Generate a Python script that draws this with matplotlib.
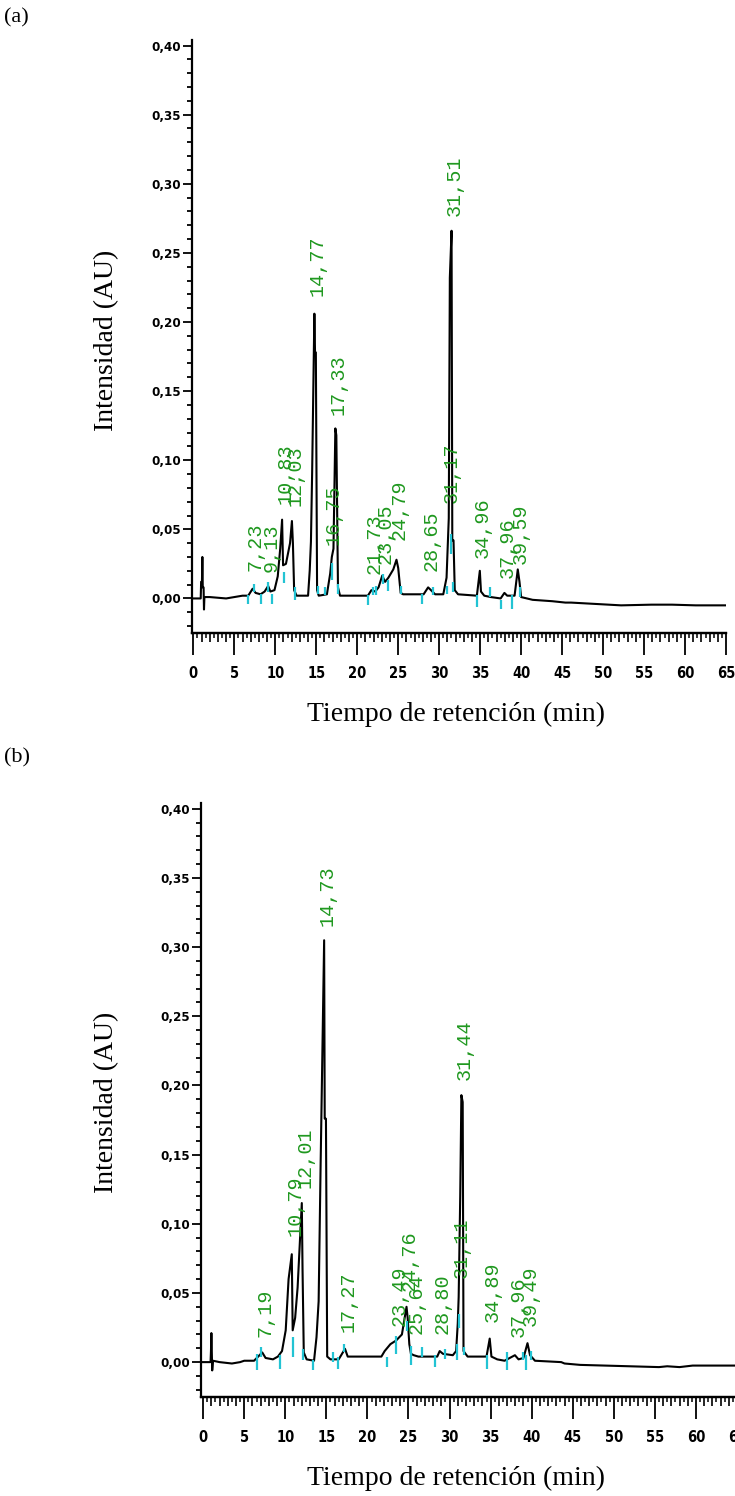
import numpy as np
import matplotlib
matplotlib.use("Agg")
import matplotlib.pyplot as plt
from matplotlib import font_manager
from matplotlib.ticker import MultipleLocator

# ---- panel (a): chromatogram trace (min, AU)
t_a = [-0.2, 0.9, 0.95, 1.05, 1.1, 1.15, 1.25, 1.3, 1.35, 2.0, 3.0, 4.0, 5.0, 6.0, 6.7,
       7.23, 7.6, 8.2, 8.7, 9.13, 9.4, 9.9, 10.3, 10.6, 10.83, 10.95, 11.3, 11.6, 11.8,
       12.03, 12.15, 12.3, 12.6, 14.0, 14.2, 14.35, 14.5, 14.77, 14.85, 14.95, 15.1,
       15.3, 16.3, 16.7, 16.9, 17.1, 17.33, 17.45, 17.65, 17.9, 21.3, 21.73, 22.2,
       22.6, 23.05, 23.4, 23.8, 24.4, 24.79, 25.0, 25.3, 25.6, 28.1, 28.65, 29.0,
       29.5, 30.5, 30.9, 31.17, 31.3, 31.51, 31.6, 31.75, 31.9, 32.3, 34.6, 34.96,
       35.1, 35.5, 36.3, 37.5, 37.96, 38.3, 39.2, 39.59, 39.8, 40.0, 41.4, 43.8,
       45.4, 46.1, 52.2, 55.9, 58.4, 61.3, 65.0]
i_a = [0.000, 0.000, 0.012, 0.012, 0.030, 0.008, 0.008, -0.008, 0.001, 0.001, 0.0005,
       0.000, 0.001, 0.002, 0.002, 0.007, 0.004, 0.003, 0.005, 0.009, 0.005, 0.006,
       0.016, 0.036, 0.057, 0.024, 0.025, 0.034, 0.040, 0.056, 0.040, 0.006, 0.002,
       0.002, 0.020, 0.041, 0.092, 0.206, 0.178, 0.178, 0.006, 0.002, 0.003, 0.018,
       0.030, 0.036, 0.123, 0.118, 0.008, 0.002, 0.002, 0.006, 0.005, 0.008, 0.0165,
       0.012, 0.015, 0.021, 0.028, 0.022, 0.004, 0.003, 0.003, 0.008, 0.006, 0.003,
       0.003, 0.015, 0.058, 0.232, 0.266, 0.042, 0.042, 0.006, 0.003, 0.002, 0.020,
       0.005, 0.002, 0.001, 0.000, 0.004, 0.002, 0.002, 0.021, 0.012, 0.001, -0.001,
       -0.002, -0.003, -0.003, -0.005, -0.0045, -0.0045, -0.005, -0.005]

# retention time labels (a) and where each label starts
lab_a_t = [7.23, 9.13, 10.83, 12.03, 14.77, 16.75, 17.33, 21.73, 23.05, 24.79,
           28.65, 31.17, 31.51, 34.96, 37.96, 39.59]
lab_a_y = [0.020, 0.019, 0.068, 0.067, 0.219, 0.039, 0.133, 0.018, 0.025, 0.042,
           0.020, 0.069, 0.277, 0.0295, 0.015, 0.025]

# cyan integration marks (a): time, low, high
mk_a_t = [6.71, 7.40, 8.26, 9.15, 9.56, 11.06, 12.4, 15.24, 16.1, 16.96, 17.66, 21.3,
          21.95, 22.35, 23.17, 23.78, 25.4, 27.85, 29.3, 30.9, 31.4, 31.7, 34.6, 36.2,
          37.5, 38.9, 39.9]
mk_a_lo = [-0.0038, 0.0045, -0.0038, 0.0045, -0.0038, 0.011, -0.0014, 0.0033, 0.0022,
           0.013, 0.0033, -0.005, 0.0022, 0.0022, 0.0105, 0.0057, 0.0033, -0.0038,
           0.0022, 0.0033, 0.032, 0.0045, -0.006, 0.001, -0.0074, -0.0074, 0.001]
mk_a_hi = [0.0022, 0.0105, 0.0033, 0.0117, 0.0033, 0.019, 0.0081, 0.0093, 0.0081,
           0.026, 0.0105, 0.0022, 0.0081, 0.0093, 0.0177, 0.013, 0.0093, 0.0033,
           0.0081, 0.0093, 0.0464, 0.0117, 0.0022, 0.0081, -0.0014, 0.0022, 0.0081]

# ---- panel (b)
t_b = [-0.3, 0.9, 0.95, 1.0, 1.05, 1.1, 1.2, 2.0, 3.5, 4.5, 5.0, 6.2, 7.19, 7.6, 8.5,
       9.1, 9.6, 10.05, 10.4, 10.79, 10.9, 11.2, 11.5, 12.01, 12.1, 12.25, 12.6, 13.5,
       13.8, 14.06, 14.3, 14.73, 14.8, 14.95, 15.1, 15.5, 16.5, 17.27, 17.6, 21.7,
       22.1, 22.8, 23.49, 24.2, 24.76, 24.9, 25.1, 25.3, 25.64, 26.2, 28.5, 28.8,
       29.2, 30.4, 30.8, 31.0, 31.11, 31.3, 31.44, 31.6, 31.7, 32.2, 34.5, 34.89,
       35.1, 35.8, 36.7, 37.96, 38.4, 39.0, 39.49, 39.8, 40.4, 43.6, 44.0, 45.9,
       55.5, 56.5, 58.0, 59.6, 65.0]
i_b = [0.000, 0.000, 0.008, 0.021, 0.008, -0.006, 0.001, 0.000, -0.001, 0.000, 0.001,
       0.001, 0.007, 0.003, 0.002, 0.004, 0.008, 0.023, 0.060, 0.078, 0.023, 0.032,
       0.054, 0.115, 0.067, 0.007, 0.002, 0.001, 0.018, 0.044, 0.142, 0.305, 0.176,
       0.176, 0.004, 0.002, 0.002, 0.0096, 0.004, 0.004, 0.008, 0.013, 0.0156, 0.020,
       0.040, 0.032, 0.013, 0.006, 0.005, 0.004, 0.004, 0.008, 0.006, 0.005, 0.008,
       0.028, 0.047, 0.120, 0.193, 0.188, 0.008, 0.004, 0.004, 0.017, 0.004, 0.002,
       0.001, 0.005, 0.002, 0.003, 0.0137, 0.005, 0.001, 0.000, -0.001, -0.002,
       -0.0036, -0.003, -0.0036, -0.0025, -0.0025]

lab_b_t = [7.19, 10.79, 12.01, 14.73, 17.27, 23.49, 24.76, 25.64, 28.80, 31.11,
           31.44, 34.89, 37.96, 39.49]
lab_b_y = [0.018, 0.091, 0.126, 0.315, 0.0216, 0.026, 0.0516, 0.020, 0.020, 0.061,
           0.204, 0.0288, 0.018, 0.026]

mk_b_t = [6.5, 7.08, 9.3, 10.96, 12.2, 13.4, 15.75, 16.4, 17.1, 22.4, 23.5, 24.8,
          25.25, 26.7, 28.2, 29.4, 30.9, 31.2, 31.7, 34.6, 37.0, 38.9, 39.3, 39.9]
mk_b_lo = [-0.006, 0.0036, -0.0048, 0.0036, 0.0012, -0.006, 0.0, -0.0048, 0.0072,
           -0.0036, 0.006, 0.0228, -0.0024, 0.0036, -0.0036, 0.0024, 0.0012, 0.025,
           0.0048, -0.0048, -0.006, 0.0012, -0.006, 0.0012]
mk_b_hi = [0.006, 0.0108, 0.0048, 0.018, 0.0096, 0.0012, 0.0072, 0.0036, 0.0132,
           0.0036, 0.019, 0.030, 0.012, 0.0108, 0.0048, 0.0096, 0.0132, 0.035,
           0.0108, 0.0048, 0.0072, 0.0072, 0.0048, 0.0084]

# axis ticks
ytick_vals = [0.00, 0.05, 0.10, 0.15, 0.20, 0.25, 0.30, 0.35, 0.40]
ytick_text = ["0,00", "0,05", "0,10", "0,15", "0,20", "0,25", "0,30", "0,35", "0,40"]
xtick_vals = list(range(0, 70, 5))
xtick_text = [str(v) for v in xtick_vals]

GREEN = "#1f981f"
CYAN = "#22c3d3"
W, H = 735, 1496

names = {f.name for f in font_manager.fontManager.ttflist}
if "Liberation Sans Narrow" in names:
    ytick_fp = dict(family="Liberation Sans Narrow", weight="bold", size=11)
    xtick_fp = dict(family="Liberation Sans Narrow", weight="bold", size=12)
else:
    ytick_fp = dict(family="DejaVu Sans", stretch="condensed", weight="bold", size=9.5)
    xtick_fp = dict(family="DejaVu Sans", stretch="condensed", weight="bold", size=10.5)


def box(l, t, r, b):
    return [l / W, 1 - b / H, (r - l) / W, (b - t) / H]


def draw_panel(ax, t, i, lt, ly, mt, mlo, mhi, x0):
    ax.plot(t, i, color="black", lw=1.5)
    ax.vlines(mt, mlo, mhi, color=CYAN, lw=1.6)
    for tt, yy in zip(lt, ly):
        ax.text(tt + 0.35, yy, f"{tt:.2f}".replace(".", ","), rotation=90,
                rotation_mode="anchor", ha="left", va="center", color=GREEN,
                family="Liberation Mono", size=14.5)
    ax.set_xlim(x0, 65.0)
    ax.set_ylim(-0.025, 0.404)
    for s in ["top", "right"]:
        ax.spines[s].set_visible(False)
    for s in ["left", "bottom"]:
        ax.spines[s].set_linewidth(1.6)
    ax.set_yticks(ytick_vals, ytick_text, **ytick_fp)
    ax.yaxis.set_minor_locator(MultipleLocator(0.01))
    ax.set_xticks(xtick_vals, xtick_text, **xtick_fp)
    ax.xaxis.set_minor_locator(MultipleLocator(1))
    ax.tick_params(axis="y", which="major", length=6.5, width=1.3, pad=1)
    ax.tick_params(axis="y", which="minor", length=3.5, width=1.3)
    ax.tick_params(axis="x", which="major", length=16, width=1.3, pad=8)
    ax.tick_params(axis="x", which="minor", length=6.5, width=1.2)
    # half-minute ticks of the time ruler
    sec = ax.secondary_xaxis("bottom")
    sec.set_xticks(np.arange(0.5, 65, 1.0))
    sec.tick_params(length=3.5, width=1.1, labelbottom=False)
    sec.spines["bottom"].set_linewidth(1.6)


fig = plt.figure(figsize=(7.35, 14.96), dpi=100)
ax_a = fig.add_axes(box(191.7, 40, 726, 633))
ax_b = fig.add_axes(box(200.7, 803.3, 737, 1396.7))

draw_panel(ax_a, t_a, i_a, lab_a_t, lab_a_y, mk_a_t, mk_a_lo, mk_a_hi, -0.2)
draw_panel(ax_b, t_b, i_b, lab_b_t, lab_b_y, mk_b_t, mk_b_lo, mk_b_hi, -0.3)

serif = dict(family="Liberation Serif", size=20)
fig.text(4 / W, 1 - 18 / H, "(a)", ha="left", va="center", family="Liberation Serif", size=16)
fig.text(4 / W, 1 - 758 / H, "(b)", ha="left", va="center", family="Liberation Serif", size=16)
fig.text(107 / W, 1 - 340 / H, "Intensidad (AU)", rotation=90, ha="center", va="center", **serif)
fig.text(107 / W, 1 - 1102 / H, "Intensidad (AU)", rotation=90, ha="center", va="center", **serif)
fig.text(456 / W, 1 - 714 / H, "Tiempo de retención (min)", ha="center", va="center", **serif)
fig.text(456 / W, 1 - 1478 / H, "Tiempo de retención (min)", ha="center", va="center", **serif)

fig.savefig("out.png", dpi=100)
